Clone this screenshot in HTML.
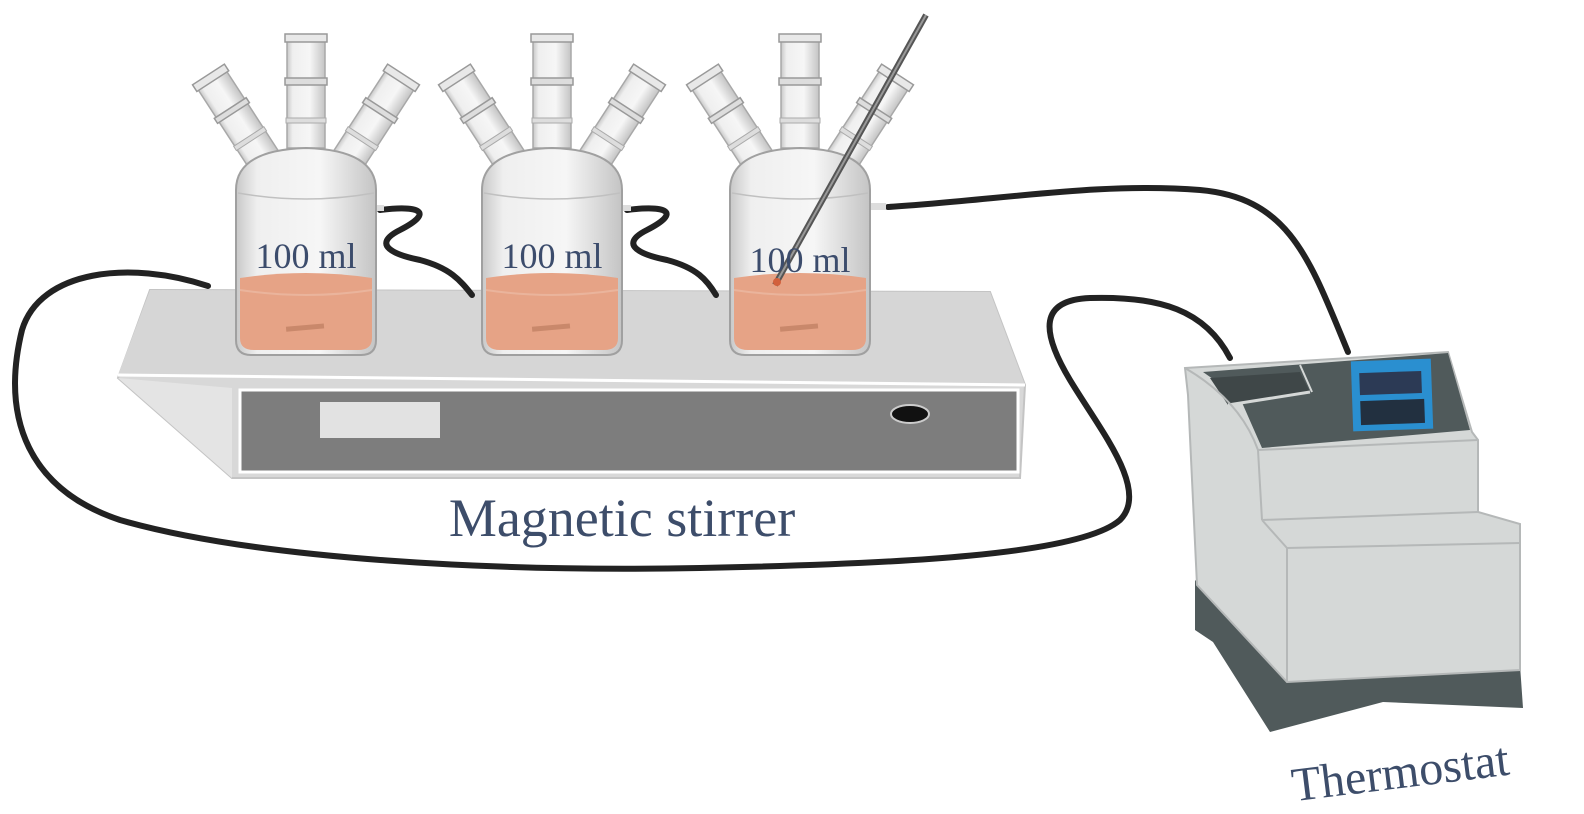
<!DOCTYPE html>
<html><head><meta charset="utf-8"><style>html,body{margin:0;padding:0;background:#fff}svg{display:block}</style></head>
<body>
<svg width="1584" height="814" viewBox="0 0 1584 814" xmlns="http://www.w3.org/2000/svg">
<defs>
<linearGradient id="glass" x1="0" x2="1" y1="0" y2="0">
<stop offset="0" stop-color="#c8c8c8"/><stop offset="0.15" stop-color="#efefef"/><stop offset="0.6" stop-color="#f6f6f6"/><stop offset="1" stop-color="#c4c4c4"/></linearGradient>
<g id="neck">
<rect x="-19" y="-112" width="38" height="112" fill="url(#glass)" stroke="#a8a8a8" stroke-width="1.5"/>
<rect x="-21" y="-114" width="42" height="8" fill="#e8e8e8" stroke="#999" stroke-width="1.5"/>
<rect x="-21" y="-70" width="42" height="7" fill="#ddd" stroke="#999" stroke-width="1.5"/>
<rect x="-20" y="-30" width="40" height="5" fill="#ddd" stroke="#aaa" stroke-width="1"/>
</g>
<g id="sneck">
<rect x="-17" y="-100" width="34" height="100" fill="url(#glass)" stroke="#a8a8a8" stroke-width="1.5"/>
<rect x="-19" y="-102" width="38" height="8" fill="#e8e8e8" stroke="#999" stroke-width="1.5"/>
<rect x="-19" y="-62" width="38" height="6" fill="#ddd" stroke="#999" stroke-width="1.5"/>
<rect x="-18" y="-28" width="36" height="5" fill="#ddd" stroke="#aaa" stroke-width="1"/>
</g>
<g id="flask">
<use href="#sneck" transform="translate(-42,160) rotate(-33)"/>
<use href="#sneck" transform="translate(42,160) rotate(33)"/>
<use href="#neck" transform="translate(0,148)"/>
<path d="M-70,190 Q-70,150 0,148 Q70,150 70,190 L70,340 Q70,355 55,355 L-55,355 Q-70,355 -70,340 Z" fill="url(#glass)" stroke="#a0a0a0" stroke-width="2"/>
<path d="M-68,193 Q0,205 68,193" fill="none" stroke="#c0c0c0" stroke-width="1.5"/>
<path d="M-66,278 Q0,268 66,278 L66,338 Q66,350 52,350 L-52,350 Q-66,350 -66,338 Z" fill="#e6a386"/>
<path d="M-66,290 Q0,300 66,290" fill="none" stroke="#eab49c" stroke-width="2"/>
<rect x="-20" y="325" width="38" height="5" fill="#c9886b" transform="rotate(-5 0 327)"/>
</g>
</defs>

<!-- stirrer -->
<path d="M150,290 L990,292 L1025,385 L1020,478 L232,478 L118,378 Z" fill="#d8d8d8" stroke="#c4c4c4" stroke-width="2"/>
<path d="M150,290 L990,292 L1025,385 L118,375 Z" fill="#d6d6d6"/>
<path d="M118,375 L1025,385" stroke="#fff" stroke-width="3"/>
<path d="M118,378 L232,478 L232,388 Z" fill="#e4e4e4"/>
<rect x="240" y="390" width="778" height="82" fill="#7d7d7d" stroke="#fff" stroke-width="3"/>
<rect x="320" y="402" width="120" height="36" fill="#e2e2e2"/>
<ellipse cx="910" cy="414" rx="19" ry="9" fill="#111" stroke="#ccc" stroke-width="2"/>

<!-- tubes -->
<g fill="none" stroke="#222" stroke-width="6" stroke-linecap="round">
<path d="M208,286 C130,260 40,270 22,330 C0,420 30,490 120,520 C260,560 500,572 700,568 C900,564 1080,555 1120,520 C1150,490 1100,430 1070,380 C1040,330 1040,300 1090,298 C1160,296 1205,310 1230,358"/>
<path d="M888,207 C1000,200 1100,182 1200,190 C1290,198 1310,260 1348,352"/>
<path d="M380,210 C420,205 435,212 400,230 C370,245 395,255 420,260 C450,268 460,280 472,295"/>
<path d="M627,210 C667,205 682,212 647,230 C617,245 642,255 667,260 C697,268 707,280 716,295"/>
</g>
<rect x="374" y="205" width="10" height="6" fill="#ddd"/>
<rect x="621" y="205" width="10" height="6" fill="#ddd"/>
<rect x="870" y="203" width="16" height="7" fill="#ddd"/>

<!-- flasks -->
<use href="#flask" transform="translate(306,0)"/>
<use href="#flask" transform="translate(552,0)"/>
<use href="#flask" transform="translate(800,0)"/>
<!-- thermometer -->
<line x1="926" y1="15" x2="775" y2="285" stroke="#555" stroke-width="6"/>
<line x1="926" y1="15" x2="775" y2="285" stroke="#999" stroke-width="2"/>
<circle cx="777" cy="282" r="4" fill="#d2603c"/>
<g font-family="Liberation Serif, serif" font-size="36" fill="#3c4c6c" text-anchor="middle">
<text x="306" y="268">100 ml</text>
<text x="552" y="268">100 ml</text>
<text x="800" y="272">100 ml</text>
</g>

<!-- thermostat -->
<path d="M1195,580 L1195,630 L1213,642 L1270,732 L1383,702 L1523,708 L1520,665 L1287,678 Z" fill="#505a5b"/>
<path d="M1185,368 L1448,352 L1472,432 L1478,440 L1478,512 L1520,524 L1520,670 L1287,682 L1197,585 L1188,395 Z" fill="#d5d8d7" stroke="#b5b8b8" stroke-width="2"/>
<path d="M1203,372 L1448,353 L1470,430 L1262,448 L1240,398 Z" fill="#505a5b"/>
<path d="M1210,378 L1300,372 L1310,392 L1228,405 Z" fill="#3f4748"/>
<path d="M1228,405 L1310,392" stroke="#d5d8d7" stroke-width="3"/>
<path d="M1300,365 L1312,392" stroke="#d5d8d7" stroke-width="2"/>
<path d="M1185,368 Q1240,400 1258,450 L1262,520 M1258,450 L1478,440 M1262,520 L1478,512 M1262,520 L1287,548 L1520,543 M1287,548 L1287,682" fill="none" stroke="#b5b8b8" stroke-width="2"/>
<rect x="1352" y="360" width="80" height="70" fill="#2a8fd0" transform="rotate(-2 1392 395)"/>
<rect x="1360" y="372" width="62" height="22" fill="#2c3a55" transform="rotate(-2 1392 395)"/>
<rect x="1360" y="400" width="64" height="24" fill="#223040" transform="rotate(-2 1392 395)"/>

<!-- labels -->
<text x="622" y="536" font-family="Liberation Serif, serif" font-size="54" fill="#3d4d6a" text-anchor="middle">Magnetic stirrer</text>
<text x="1400" y="788" font-family="Liberation Serif, serif" font-size="48" fill="#3d4d6a" text-anchor="middle" transform="rotate(-7 1400 770)">Thermostat</text>
</svg>
</body></html>
